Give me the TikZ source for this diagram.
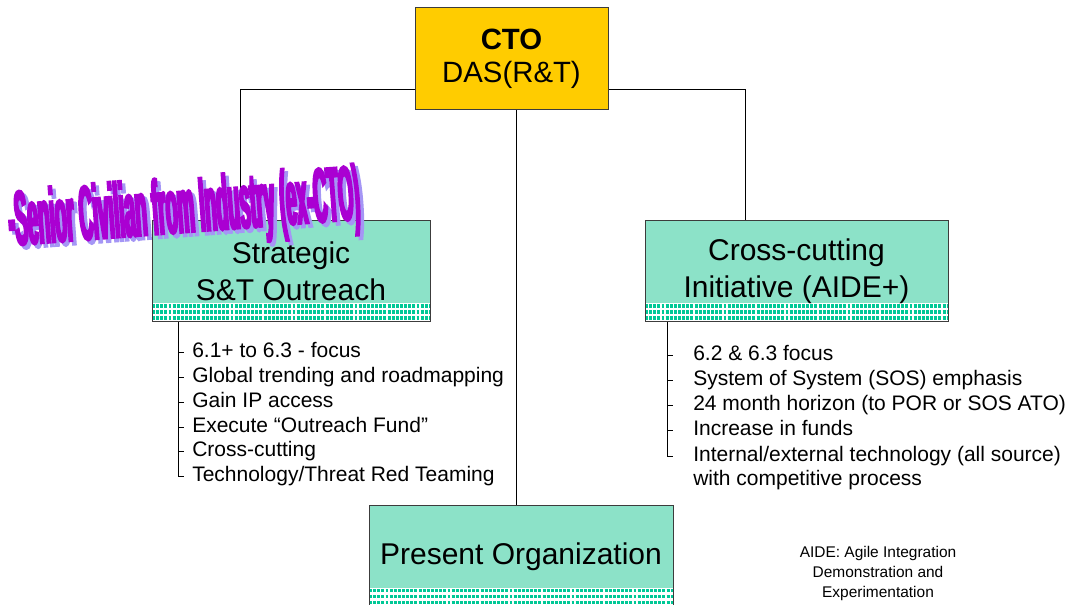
\documentclass[tikz,border=0pt]{standalone}
\usepackage{fontspec}
\usepackage{graphicx}
\setmainfont{Liberation Sans}
\newfontfamily\wafont{Liberation Sans Bold}[FakeStretch=0.27,FakeBold=3]
\usetikzlibrary{calc,backgrounds}
\definecolor{mint}{RGB}{140,226,200}
\definecolor{teal2}{RGB}{0,200,150}
\definecolor{ctoyellow}{RGB}{255,204,0}
\definecolor{edge}{RGB}{60,60,60}
\definecolor{wapurple}{RGB}{170,0,210}
\definecolor{washadow}{RGB}{165,150,245}
\newcommand\boxfont{\fontsize{22.5pt}{27.75pt}\selectfont}
\newcommand\ctofont{\fontsize{22pt}{24.75pt}\selectfont}
\newcommand\listfont{\fontsize{15.75pt}{18pt}\selectfont}
\newcommand\notefont{\fontsize{11.6pt}{15pt}\selectfont}
\newcommand\watext{\resizebox{264pt}{42pt}{\wafont -Senior Civilian from Industry (ex-CTO)}}
\begin{document}
\begin{tikzpicture}[x=0.75pt,y=-0.75pt,
  conn/.style={draw=black,line width=0.75pt},
  band/.style={path picture={
     \fill[white] ($(path picture bounding box.south west)+(0,-19)$) rectangle (path picture bounding box.south east);
     \foreach \dy in {-16,-10,-4}
       \draw[teal2,line width=2.4pt,dash pattern=on 2.2pt off 0.9pt]
         ($(path picture bounding box.south west)+(0,\dy)$) -- ($(path picture bounding box.south east)+(0,\dy)$);
  }},
  box/.style={draw=edge,line width=0.75pt,fill=mint,inner sep=0pt,align=center,font=\boxfont,band},
  ctobox/.style={draw=edge,line width=0.75pt,fill=ctoyellow,inner sep=0pt,align=center,font=\ctofont},
  litem/.style={font=\listfont,anchor=base west,inner xsep=6pt,inner ysep=0pt,text height=11pt,text depth=3pt},
  ritem/.style={font=\listfont,anchor=base west,inner xsep=15pt,inner ysep=0pt,text height=11pt,text depth=3pt},
  note/.style={font=\notefont,align=center,inner sep=0pt,anchor=north},
  wa/.style={anchor=base west,rotate=4.3,inner sep=0pt}
]
\useasboundingbox (0,0) rectangle (1078,605);

% boxes
\node[ctobox,minimum width=144.75pt,minimum height=76.5pt] (cto) at (511.5,59) {{\bfseries CTO}\\DAS(R\&T)};
\node[box,minimum width=208.5pt,minimum height=75.75pt] (strat) at (291,271.5) {Strategic\\S\&T Outreach};
\node[box,minimum width=227.25pt,minimum height=75.75pt] (cross) at (796.5,271.5) {Cross-cutting\\Initiative (AIDE+)};
\node[box,minimum width=228pt,minimum height=75.375pt] (pres) at (521,556.25) {Present Organization};

% helper coordinates
\coordinate (hl) at (240,90);
\coordinate (hr) at (745,90);
\coordinate (vc) at (516,0);
\coordinate (lbx) at (178,0);
\coordinate (rbx) at (667,0);

% connectors behind the boxes
\begin{scope}[on background layer]
  \draw[conn] (strat.north -| hl) -- (hl) -- (hr) -- (cross.north -| hr);
  \draw[conn] (cto.south -| vc) -- (pres.north -| vc);
\end{scope}

% left list
\node[litem] (l1) at (184,358) {6.1+ to 6.3 - focus};
\node[litem] (l2) at (184,383) {Global trending and roadmapping};
\node[litem] (l3) at (184,408) {Gain IP access};
\node[litem] (l4) at (184,433) {Execute “Outreach Fund”};
\node[litem] (l5) at (184,457) {Cross-cutting};
\node[litem] (l6) at (184,482) {Technology/Threat Red Teaming};
\draw[conn] (strat.south -| lbx) |- (l6.west);
\foreach \n in {1,...,5} \draw[conn] (l\n.west -| lbx) -- (l\n.west);

% right list
\node[ritem] (r1) at (673,361) {6.2 \& 6.3 focus};
\node[ritem] (r2) at (673,386) {System of System (SOS) emphasis};
\node[ritem] (r3) at (673,411) {24 month horizon (to POR or SOS ATO)};
\node[ritem] (r4) at (673,436) {Increase in funds};
\node[ritem] (r5) at (673,462) {Internal/external technology (all source)};
\node[ritem] (r6) at (673,486) {with competitive process};
\draw[conn] (cross.south -| rbx) |- (r5.west);
\foreach \n in {1,...,4} \draw[conn] (r\n.west -| rbx) -- (r\n.west);

% note
\node[note] (aide) at (878,546) {AIDE: Agile Integration\\Demonstration and\\Experimentation};

% word art with its shadow
\node[wa,text=washadow] (wash) at (13.5,249) {\watext};
\node[wa,text=wapurple] (wart) at (10,245.5) {\watext};
\end{tikzpicture}
\end{document}
